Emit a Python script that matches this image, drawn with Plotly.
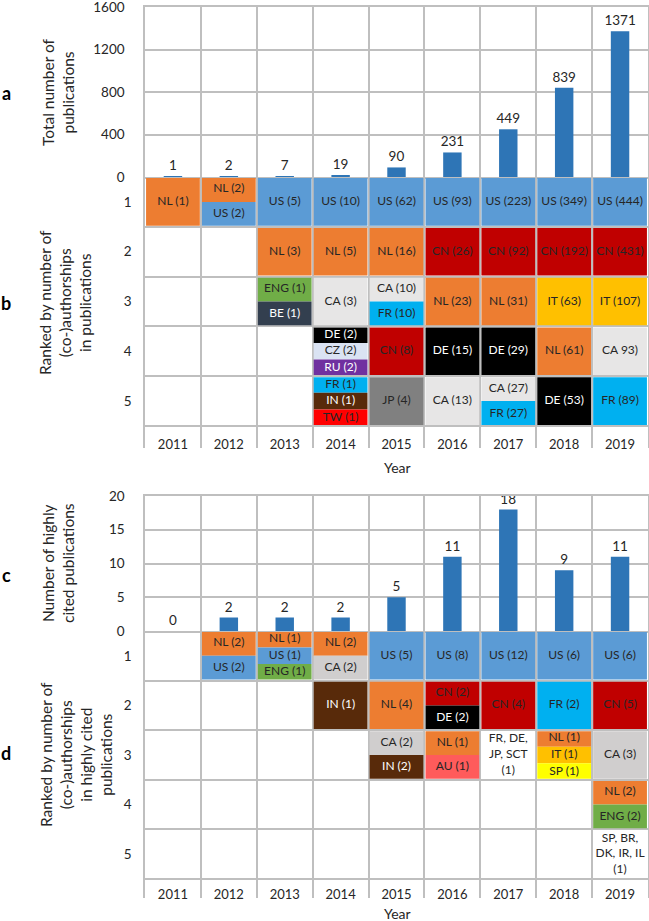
import plotly.graph_objects as go

# ---------------- data ----------------
years = ["2011", "2012", "2013", "2014", "2015", "2016", "2017", "2018", "2019"]
total_publications = [1, 2, 7, 19, 90, 231, 449, 839, 1371]
highly_cited = [0, 2, 2, 2, 5, 11, 18, 9, 11]
ranks = [1, 2, 3, 4, 5]

# panel b: co-authorship ranking in all publications (labels stacked top->bottom inside a cell)
b_year = ["2011", "2012",
          "2013", "2013", "2013",
          "2014", "2014", "2014", "2014", "2014",
          "2015", "2015", "2015", "2015", "2015",
          "2016", "2016", "2016", "2016", "2016",
          "2017", "2017", "2017", "2017", "2017",
          "2018", "2018", "2018", "2018", "2018",
          "2019", "2019", "2019", "2019", "2019"]
b_rank = [1, 1,
          1, 2, 3,
          1, 2, 3, 4, 5,
          1, 2, 3, 4, 5,
          1, 2, 3, 4, 5,
          1, 2, 3, 4, 5,
          1, 2, 3, 4, 5,
          1, 2, 3, 4, 5]
b_labels = [["NL (1)"], ["NL (2)", "US (2)"],
            ["US (5)"], ["NL (3)"], ["ENG (1)", "BE (1)"],
            ["US (10)"], ["NL (5)"], ["CA (3)"], ["DE (2)", "CZ (2)", "RU (2)"], ["FR (1)", "IN (1)", "TW (1)"],
            ["US (62)"], ["NL (16)"], ["CA (10)", "FR (10)"], ["CN (8)"], ["JP (4)"],
            ["US (93)"], ["CN (26)"], ["NL (23)"], ["DE (15)"], ["CA (13)"],
            ["US (223)"], ["CN (92)"], ["NL (31)"], ["DE (29)"], ["CA (27)", "FR (27)"],
            ["US (349)"], ["CN (192)"], ["IT (63)"], ["NL (61)"], ["DE (53)"],
            ["US (444)"], ["CN (431)"], ["IT (107)"], ["CA 93)"], ["FR (89)"]]

# panel d: co-authorship ranking in highly cited publications
d_year = ["2012", "2013",
          "2014", "2014",
          "2015", "2015", "2015",
          "2016", "2016", "2016",
          "2017", "2017", "2017",
          "2018", "2018", "2018",
          "2019", "2019", "2019", "2019", "2019"]
d_rank = [1, 1,
          1, 2,
          1, 2, 3,
          1, 2, 3,
          1, 2, 3,
          1, 2, 3,
          1, 2, 3, 4, 5]
d_labels = [["NL (2)", "US (2)"], ["NL (1)", "US (1)", "ENG (1)"],
            ["NL (2)", "CA (2)"], ["IN (1)"],
            ["US (5)"], ["NL (4)"], ["CA (2)", "IN (2)"],
            ["US (8)"], ["CN (2)", "DE (2)"], ["NL (1)", "AU (1)"],
            ["US (12)"], ["CN (4)"], ["FR, DE,<br>JP, SCT<br>(1)"],
            ["US (6)"], ["FR (2)"], ["NL (1)", "IT (1)", "SP (1)"],
            ["US (6)"], ["CN (5)"], ["CA (3)"], ["NL (2)", "ENG (2)"], ["SP, BR,<br>DK, IR, IL<br>(1)"]]

# ---------------- style ----------------
W, H = 649, 921
FONT = "Lato"
GRID = "#BFBFBF"
BAR = "#2E75B6"
TXT = "#262626"
palette_b = {"US": "#5B9BD5", "NL": "#ED7D31", "CN": "#C00000", "IT": "#FFC000", "CA": "#E7E6E6",
             "FR": "#00B0F0", "ENG": "#70AD47", "BE": "#333F4F", "DE": "#000000", "CZ": "#DAE3F3",
             "RU": "#7030A0", "IN": "#582A0A", "TW": "#FF0000", "JP": "#808080", "AU": "#FF5B5B",
             "SP": "#FFFF00", "multi": "#FFFFFF"}
palette_d = dict(palette_b, CA="#D0CECE")
white_text = {"DE", "BE", "RU", "IN"}


def px_y(p):
    return 1 - p / H


xdom = [145 / W, 648 / W]
bounds = [i - 0.5 for i in range(len(years) + 1)]
xidx = list(range(len(years)))

fig = go.Figure()


def bar_panel(values, xa, ya):
    fig.add_trace(go.Bar(x=xidx, y=values, width=0.33, marker_color=BAR, marker_line_width=0,
                         text=[str(v) for v in values], textposition="outside", constraintext="none",
                         textfont=dict(family=FONT, size=13.5, color=TXT), cliponaxis=False,
                         xaxis=xa, yaxis=ya, showlegend=False, hoverinfo="skip"))


def table_panel(cy, cr, cl, palette, xa, ya, year_y):
    bx, bbase, bh, bcol = [], [], [], []
    tx, ty, tt, tcol = [], [], [], []
    inset = 0.022
    for yr, rk, labels in zip(cy, cr, cl):
        xi = years.index(yr)
        n = len(labels)
        for k, lab in enumerate(labels):
            top = rk - 0.5 + k / n
            bot = rk - 0.5 + (k + 1) / n
            y0 = top + (inset if k == 0 else 0)
            y1 = bot - (inset if k == n - 1 else 0)
            key = "multi" if "," in lab else lab.split(" ")[0]
            bx.append(xi)
            bbase.append(y0)
            bh.append(y1 - y0)
            bcol.append(palette[key])
            tx.append(xi)
            ty.append((top + bot) / 2)
            tt.append(lab)
            tcol.append("#FFFFFF" if key in white_text else TXT)
    fig.add_trace(go.Bar(x=bx, y=bh, base=bbase, width=0.962, marker_color=bcol, marker_line_width=0,
                         xaxis=xa, yaxis=ya, showlegend=False, hoverinfo="skip"))
    fig.add_trace(go.Scatter(x=tx, y=ty, mode="text", text=tt,
                             textfont=dict(family=FONT, size=12, color=tcol),
                             xaxis=xa, yaxis=ya, showlegend=False, hoverinfo="skip"))
    fig.add_trace(go.Scatter(x=xidx, y=[year_y] * len(years), mode="text", text=years,
                             textfont=dict(family=FONT, size=13, color=TXT), cliponaxis=False,
                             xaxis=xa, yaxis=ya, showlegend=False, hoverinfo="skip"))


bar_panel(total_publications, "x", "y")
table_panel(b_year, b_rank, b_labels, palette_b, "x2", "y2", 5.9)
bar_panel(highly_cited, "x3", "y3")
table_panel(d_year, d_rank, d_labels, palette_d, "x4", "y4", 5.84)

tickfont = dict(family=FONT, size=13.5, color=TXT)
xcommon = dict(domain=xdom, range=[-0.5, 8.5], tickmode="array", tickvals=bounds, showticklabels=False,
               showgrid=True, gridcolor=GRID, gridwidth=1.5, zeroline=False, ticks="", fixedrange=True)


def bar_y(dom, rng, tv, anchor):
    return dict(domain=dom, range=rng, tickmode="array", tickvals=tv, showgrid=True, gridcolor=GRID,
                gridwidth=1.5, zeroline=False, ticks="", showline=True, mirror=True, linecolor=GRID,
                linewidth=1.5, tickfont=tickfont, ticklabelstandoff=16, anchor=anchor,
                ticklabeloverflow="allow")


def table_y(dom, rng, anchor):
    return dict(domain=dom, range=rng, tickmode="array", tickvals=ranks, ticktext=[str(r) for r in ranks],
                showgrid=False, zeroline=False, ticks="", showline=True, mirror=True, linecolor=GRID,
                linewidth=1.5, tickfont=tickfont, ticklabelstandoff=9, anchor=anchor,
                minor=dict(tickvals=[r - 0.5 for r in ranks] + [5.5], showgrid=True, gridcolor=GRID,
                           gridwidth=1.5, ticks=""))


fig.update_layout(
    width=W, height=H, margin=dict(l=0, r=0, t=0, b=0), template="none",
    paper_bgcolor="white", plot_bgcolor="white", barmode="overlay", showlegend=False,
    font=dict(family=FONT, color=TXT),
    xaxis=dict(xcommon, anchor="y", showline=True, mirror=True, linecolor=GRID, linewidth=1.5),
    yaxis=bar_y([px_y(177), px_y(7)], [0, 1600], [0, 400, 800, 1200, 1600], "x"),
    xaxis2=dict(xcommon, anchor="y2", showline=False),
    yaxis2=table_y([px_y(448), px_y(177)], [5.5 + 22 / 49.8, 0.5], "x2"),
    xaxis3=dict(xcommon, anchor="y3", showline=True, mirror=True, linecolor=GRID, linewidth=1.5),
    yaxis3=bar_y([px_y(631), px_y(496)], [0, 20], [0, 5, 10, 15, 20], "x3"),
    xaxis4=dict(xcommon, anchor="y4", showline=False),
    yaxis4=table_y([px_y(898), px_y(631)], [5.5 + 19 / 49.6, 0.5], "x4"),
)

ann = []
for letter, yp in [("a", 93), ("b", 303), ("c", 575), ("d", 753)]:
    ann.append(dict(text="<b>%s</b>" % letter, x=6 / W, y=px_y(yp), xref="paper", yref="paper",
                    xanchor="center", yanchor="middle",
                    showarrow=False, font=dict(family=FONT, size=18, color="#000")))
titles = [("Total number of<br>publications", 58, 92),
          ("Ranked by number of<br>(co-)authorships<br>in publications", 65, 303),
          ("Number of highly<br>cited publications", 58, 563),
          ("Ranked by number of<br>(co-)authorships<br>in highly cited<br>publications", 76, 755)]
for t, xp, yp in titles:
    ann.append(dict(text=t, x=xp / W, y=px_y(yp), xref="paper", yref="paper", textangle=-90,
                    xanchor="center", yanchor="middle",
                    showarrow=False, font=dict(family=FONT, size=15.5, color=TXT)))
for yp in [467, 913]:
    ann.append(dict(text="Year", x=397 / W, y=px_y(yp), xref="paper", yref="paper", showarrow=False,
                    xanchor="center", yanchor="middle",
                    font=dict(family=FONT, size=14, color=TXT)))
fig.update_layout(annotations=ann)

fig.write_html("out.html", config={"displayModeBar": False},
               post_script="document.body.style.margin='0';document.body.style.overflow='hidden';"
                           "document.documentElement.style.overflow='hidden';")
